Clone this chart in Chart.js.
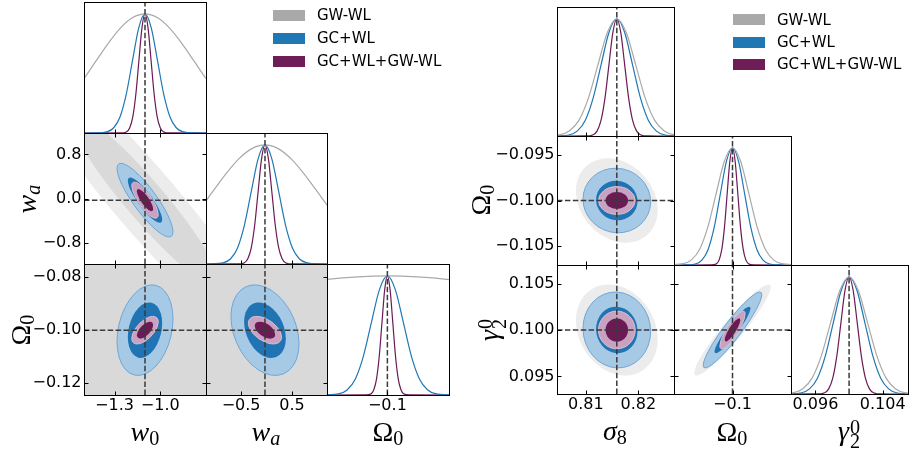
<!DOCTYPE html>
<html>
<head>
<meta charset="utf-8">
<script src="https://cdn.jsdelivr.net/npm/chart.js@4.4.1/dist/chart.umd.min.js"></script>
<style>
  html, body { margin: 0; padding: 0; background: #fff; }
  body { width: 911px; height: 453px; position: relative; overflow: hidden; font-family: 'DejaVu Sans', sans-serif; }
  canvas { position: absolute; left: 0; top: 0; }
  .lab { position: absolute; font-family: 'Liberation Serif', 'DejaVu Serif', serif; font-size: 28px; line-height: 28px; white-space: nowrap; font-style: italic; color: #000; }
  .xl { transform: translateX(-50%); }
  .yl { transform: translate(-50%, -50%) rotate(-90deg); }
  .up { font-style: normal; }
  .sb { font-size: 0.72em; vertical-align: -0.22em; line-height: 0; font-style: normal; }
  .sbi { font-size: 0.72em; vertical-align: -0.22em; line-height: 0; font-style: italic; }
  .ss { display: inline-flex; flex-direction: column; font-size: 0.72em; line-height: 0.72; vertical-align: 0.3em; font-style: normal; margin-left: 1px; }
  .sw { position: absolute; width: 32px; height: 11px; }
  .lt { position: absolute; font-family: 'DejaVu Sans', sans-serif; font-size: 15px; line-height: 15px; white-space: nowrap; color: #000; }
</style>
</head>
<body>
<script>
// ================= DATA =================
const seriesNames = ['GW-WL', 'GC+WL', 'GC+WL+GW-WL'];

// ---- left triangle: parameters w0, wa, Omega0 ----
const leftFid = [-1.1, -0.03, -0.1];
const leftMin = [-1.5, -1.19, -0.1245];
const leftMax = [-0.7, 1.19, -0.075];
const w0TicksX = [-1.3, -1.0];           const w0LabelsX = ['\u22121.3', '\u22121.0'];
const w0TicksY = [];                     const w0LabelsY = [];
const waTicksX = [-0.5, 0.5];            const waLabelsX = ['\u22120.5', '0.5'];
const waTicksY = [-0.8, 0.0, 0.8];       const waLabelsY = ['\u22120.8', '0.0', '0.8'];
const om0TicksX = [-0.1];                const om0LabelsX = ['\u22120.1'];
const om0TicksY = [-0.12, -0.10, -0.08]; const om0LabelsY = ['\u22120.12', '\u22120.10', '\u22120.08'];
// 2D contour widths (1 sigma) per parameter [w0, wa, Om0]
const leftSigGray   = [0.32, 1.03, 0.10];
const leftSigBlue   = [0.074, 0.27, 0.0069];
const leftSigPurple = [0.035, 0.132, 0.0021];
// correlations for pairs [(w0,wa), (w0,Om0), (wa,Om0)]
const leftRhoGray   = [-0.94, 0.0, 0.0];
const leftRhoBlue   = [-0.86, 0.25, -0.3];
const leftRhoPurple = [-0.8, 0.6, -0.5];

// 1D marginals
const w0GrayX   = [-1.74, -1.66, -1.58, -1.50, -1.42, -1.34, -1.26, -1.18, -1.10, -1.02, -0.94, -0.86, -0.78, -0.70, -0.62, -0.54, -0.46];
const w0GrayY   = [0.135, 0.216, 0.325, 0.458, 0.607, 0.755, 0.883, 0.969, 1, 0.969, 0.883, 0.755, 0.607, 0.458, 0.325, 0.216, 0.135];
const w0BlueX   = [-1.5, -1.428, -1.346, -1.305, -1.264, -1.223, -1.182, -1.141, -1.1, -1.059, -1.018, -0.977, -0.936, -0.895, -0.854, -0.772, -0.7];
const w0BlueY   = [0, 0.0003, 0.011, 0.044, 0.135, 0.325, 0.607, 0.883, 1, 0.883, 0.607, 0.325, 0.135, 0.044, 0.011, 0.0003, 0];
const w0PurpleX = [-1.5, -1.26, -1.22, -1.20, -1.18, -1.16, -1.14, -1.12, -1.10, -1.08, -1.06, -1.04, -1.02, -1.00, -0.98, -0.94, -0.7];
const w0PurpleY = [0, 0.0003, 0.011, 0.044, 0.135, 0.325, 0.607, 0.883, 1, 0.883, 0.607, 0.325, 0.135, 0.044, 0.011, 0.0003, 0];

const waGrayX   = [-2.09, -1.8325, -1.575, -1.3175, -1.06, -0.8025, -0.545, -0.2875, -0.03, 0.2275, 0.485, 0.7425, 1.0, 1.2575, 1.515, 1.7725, 2.03];
const waGrayY   = [0.135, 0.216, 0.325, 0.458, 0.607, 0.755, 0.883, 0.969, 1, 0.969, 0.883, 0.755, 0.607, 0.458, 0.325, 0.216, 0.135];
const waBlueX   = [-1.19, -1.11, -0.84, -0.705, -0.57, -0.435, -0.30, -0.165, -0.03, 0.105, 0.24, 0.375, 0.51, 0.645, 0.78, 1.05, 1.19];
const waBlueY   = [0, 0.0003, 0.011, 0.044, 0.135, 0.325, 0.607, 0.883, 1, 0.883, 0.607, 0.325, 0.135, 0.044, 0.011, 0.0003, 0];
const waPurpleX = [-1.19, -0.57, -0.435, -0.3675, -0.30, -0.2325, -0.165, -0.0975, -0.03, 0.0375, 0.105, 0.1725, 0.24, 0.3075, 0.375, 0.51, 1.19];
const waPurpleY = [0, 0.0003, 0.011, 0.044, 0.135, 0.325, 0.607, 0.883, 1, 0.883, 0.607, 0.325, 0.135, 0.044, 0.011, 0.0003, 0];

const om0GrayX   = [-0.2, -0.15, -0.125, -0.1, -0.075, -0.05, 0.0];
const om0GrayY   = [0.607, 0.883, 0.969, 1, 0.969, 0.883, 0.607];
const om0BlueX   = [-0.126, -0.1195, -0.11625, -0.113, -0.10975, -0.1065, -0.10325, -0.1, -0.09675, -0.0935, -0.09025, -0.087, -0.08375, -0.0805, -0.074];
const om0BlueY   = [0.0003, 0.011, 0.044, 0.135, 0.325, 0.607, 0.883, 1, 0.883, 0.607, 0.325, 0.135, 0.044, 0.011, 0.0003];
const om0PurpleX = [-0.1245, -0.1088, -0.1066, -0.1055, -0.1044, -0.1033, -0.1022, -0.1011, -0.1, -0.0989, -0.0978, -0.0967, -0.0956, -0.0945, -0.0934, -0.0912, -0.075];
const om0PurpleY = [0, 0.0003, 0.011, 0.044, 0.135, 0.325, 0.607, 0.883, 1, 0.883, 0.607, 0.325, 0.135, 0.044, 0.011, 0.0003, 0];

// ---- right triangle: parameters sigma8, Omega0, gamma2^0 ----
const rightFid = [0.8159, -0.1, 0.1];
const rightMin = [0.8045, -0.10713, 0.0931];
const rightMax = [0.8268, -0.09287, 0.1070];
const s8TicksX = [0.81, 0.82];             const s8LabelsX = ['0.81', '0.82'];
const s8TicksY = [];                       const s8LabelsY = [];
const omRTicksX = [-0.1];                  const omRLabelsX = ['\u22120.1'];
const omRTicksY = [-0.105, -0.100, -0.095]; const omRLabelsY = ['\u22120.105', '\u22120.100', '\u22120.095'];
const gTicksX = [0.096, 0.104];            const gLabelsX = ['0.096', '0.104'];
const gTicksY = [0.095, 0.100, 0.105];     const gLabelsY = ['0.095', '0.100', '0.105'];
// 2D contour widths per parameter [sigma8, Om0, gamma]
const rightSigGray   = [0.00315, 0.00188, 0.00198];
const rightSigBlue   = [0.0026, 0.00144, 0.00165];
const rightSigPurple = [0.00141, 0.00062, 0.00082];
// correlations for pairs [(s8,Om0), (s8,gamma), (Om0,gamma)]
const rightRhoGray   = [-0.22, -0.2, 0.94];
const rightRhoBlue   = [-0.04, -0.04, 0.93];
const rightRhoPurple = [0.0, 0.0, 0.85];

const s8GrayX   = [0.8015, 0.8051, 0.8069, 0.8087, 0.8105, 0.8123, 0.8141, 0.8159, 0.8177, 0.8195, 0.8213, 0.8231, 0.8249, 0.8267, 0.8303];
const s8GrayY   = [0.0003, 0.011, 0.044, 0.135, 0.325, 0.607, 0.883, 1, 0.883, 0.607, 0.325, 0.135, 0.044, 0.011, 0.0003];
const s8BlueX   = [0.8039, 0.8069, 0.8084, 0.8099, 0.8114, 0.8129, 0.8144, 0.8159, 0.8174, 0.8189, 0.8204, 0.8219, 0.8234, 0.8249, 0.8279];
const s8BlueY   = [0.0003, 0.011, 0.044, 0.135, 0.325, 0.607, 0.883, 1, 0.883, 0.607, 0.325, 0.135, 0.044, 0.011, 0.0003];
const s8PurpleX = [0.8045, 0.8099, 0.8114, 0.81215, 0.8129, 0.81365, 0.8144, 0.81515, 0.8159, 0.81665, 0.8174, 0.81815, 0.8189, 0.81965, 0.8204, 0.8219, 0.8268];
const s8PurpleY = [0, 0.0003, 0.011, 0.044, 0.135, 0.325, 0.607, 0.883, 1, 0.883, 0.607, 0.325, 0.135, 0.044, 0.011, 0.0003, 0];

const omRGrayX   = [-0.108, -0.106, -0.105, -0.104, -0.103, -0.102, -0.101, -0.1, -0.099, -0.098, -0.097, -0.096, -0.095, -0.094, -0.092];
const omRGrayY   = [0.0003, 0.011, 0.044, 0.135, 0.325, 0.607, 0.883, 1, 0.883, 0.607, 0.325, 0.135, 0.044, 0.011, 0.0003];
const omRBlueX   = [-0.10713, -0.10592, -0.10444, -0.1037, -0.10296, -0.10222, -0.10148, -0.10074, -0.1, -0.09926, -0.09852, -0.09778, -0.09704, -0.0963, -0.09556, -0.09408, -0.09287];
const omRBlueY   = [0, 0.0003, 0.011, 0.044, 0.135, 0.325, 0.607, 0.883, 1, 0.883, 0.607, 0.325, 0.135, 0.044, 0.011, 0.0003, 0];
const omRPurpleX = [-0.10713, -0.1026, -0.10195, -0.101625, -0.1013, -0.100975, -0.10065, -0.100325, -0.1, -0.099675, -0.09935, -0.099025, -0.0987, -0.098375, -0.09805, -0.0974, -0.09287];
const omRPurpleY = [0, 0.0003, 0.011, 0.044, 0.135, 0.325, 0.607, 0.883, 1, 0.883, 0.607, 0.325, 0.135, 0.044, 0.011, 0.0003, 0];

const gGrayX   = [0.0912, 0.0934, 0.0945, 0.0956, 0.0967, 0.0978, 0.0989, 0.1, 0.1011, 0.1022, 0.1033, 0.1044, 0.1055, 0.1066, 0.1088];
const gGrayY   = [0.0003, 0.011, 0.044, 0.135, 0.325, 0.607, 0.883, 1, 0.883, 0.607, 0.325, 0.135, 0.044, 0.011, 0.0003];
const gBlueX   = [0.09248, 0.09436, 0.0953, 0.09624, 0.09718, 0.09812, 0.09906, 0.1, 0.10094, 0.10188, 0.10282, 0.10376, 0.1047, 0.10564, 0.10752];
const gBlueY   = [0.0003, 0.011, 0.044, 0.135, 0.325, 0.607, 0.883, 1, 0.883, 0.607, 0.325, 0.135, 0.044, 0.011, 0.0003];
const gPurpleX = [0.0931, 0.09612, 0.09709, 0.097575, 0.09806, 0.098545, 0.09903, 0.099515, 0.1, 0.100485, 0.10097, 0.101455, 0.10194, 0.102425, 0.10291, 0.10388, 0.1070];
const gPurpleY = [0, 0.0003, 0.011, 0.044, 0.135, 0.325, 0.607, 0.883, 1, 0.883, 0.607, 0.325, 0.135, 0.044, 0.011, 0.0003, 0];

// contour levels (sqrt of delta chi^2 for 95% and 68%)
const contourLevels = [2.48, 1.52];
const densityRange = [0, 1.1];

// ================= STYLE / LAYOUT =================
const W = 911, H = 453;
const Y_AXIS_W = 75, X_AXIS_H = 30;
const lineColors = ['#a9a9a9', '#1f77b4', '#6b1a55'];
const fillColors = [['#ececec', '#d9d9d9'], ['#a6c9e5', '#2074b3'], ['#c9a2c1', '#6b1a55']];
const strokeColors = [[null, null], ['#6fa6d5', null], ['#d9bfd3', null]];
const leftLayout  = { cols: [84, 206, 327, 449], rows: [2, 133, 264, 395] };
const rightLayout = { cols: [557, 674, 791, 908], rows: [7, 136, 265, 394] };

Chart.defaults.font.family = "'DejaVu Sans', sans-serif";
const panelInfo = new Map();

const cornerPlugin = {
  id: 'cornerPlugin',
  beforeDatasetsDraw(chart) {
    const p = panelInfo.get(chart.canvas);
    if (!p || !p.ellipses) return;
    const ctx = chart.ctx, a = chart.chartArea, xs = chart.scales.x, ys = chart.scales.y;
    ctx.save();
    ctx.beginPath();
    ctx.rect(a.left, a.top, a.right - a.left, a.bottom - a.top);
    ctx.clip();
    p.ellipses.forEach(e => {
      contourLevels.forEach((k, li) => {
        const px = xs.getPixelForValue(e.cx), py = ys.getPixelForValue(e.cy);
        const ax = Math.abs(xs.getPixelForValue(e.cx + e.sx) - px);
        const ay = Math.abs(ys.getPixelForValue(e.cy + e.sy) - py);
        const r = -e.rho;
        ctx.save();
        ctx.translate(px, py);
        ctx.transform(k * ax, k * r * ay, 0, k * ay * Math.sqrt(1 - r * r), 0, 0);
        ctx.beginPath();
        ctx.arc(0, 0, 1, 0, Math.PI * 2);
        ctx.restore();
        ctx.fillStyle = e.fills[li];
        ctx.fill();
        if (e.strokes[li]) { ctx.strokeStyle = e.strokes[li]; ctx.lineWidth = 1; ctx.stroke(); }
      });
    });
    ctx.restore();
  },
  afterDraw(chart) {
    const p = panelInfo.get(chart.canvas);
    if (!p) return;
    const ctx = chart.ctx, a = chart.chartArea, xs = chart.scales.x, ys = chart.scales.y;
    const L = Math.round(a.left) + 0.5, R = Math.round(a.right) + 0.5;
    const T = Math.round(a.top) + 0.5, B = Math.round(a.bottom) + 0.5;
    ctx.save();
    ctx.strokeStyle = '#000';
    ctx.lineWidth = 1;
    ctx.strokeRect(L, T, R - L, B - T);
    ctx.beginPath();
    const tl = 4;
    p.x.ticks.forEach(v => {
      const px = Math.round(xs.getPixelForValue(v)) + 0.5;
      ctx.moveTo(px, B); ctx.lineTo(px, B - tl);
      if (p.is2D) { ctx.moveTo(px, T); ctx.lineTo(px, T + tl); }
    });
    if (p.is2D) {
      p.y.ticks.forEach(v => {
        const py = Math.round(ys.getPixelForValue(v)) + 0.5;
        ctx.moveTo(L, py); ctx.lineTo(L + tl, py);
        ctx.moveTo(R, py); ctx.lineTo(R - tl, py);
      });
    }
    ctx.stroke();
    ctx.restore();
  }
};

function axisOpts(ax, showLabels, dir) {
  return {
    type: 'linear', min: ax.min, max: ax.max, bounds: 'data', display: true,
    position: dir === 'x' ? 'bottom' : 'left',
    grid: { display: false, drawTicks: false },
    border: { display: false },
    ticks: {
      display: showLabels, autoSkip: false, maxRotation: 0, minRotation: 0,
      padding: dir === 'x' ? 1 : 2.5, color: '#000',
      font: { family: "'DejaVu Sans', sans-serif", size: 16 },
      callback: (v, i) => (ax.labels[i] !== undefined ? ax.labels[i] : '')
    },
    afterBuildTicks: s => { s.ticks = ax.ticks.map(v => ({ value: v })); },
    afterFit: s => { if (dir === 'x') s.height = X_AXIS_H; else s.width = Y_AXIS_W; }
  };
}

function dashed(points) {
  return { data: points, borderColor: '#3a3a3a', borderWidth: 1.5, borderDash: [5.5, 2.4],
           pointRadius: 0, showLine: true, fill: false, tension: 0 };
}

function makePanel(p) {
  const cv = document.createElement('canvas');
  cv.width = W; cv.height = H;
  document.body.appendChild(cv);
  panelInfo.set(cv, p);
  const datasets = [];
  datasets.push(dashed([{ x: p.fx, y: p.y.min }, { x: p.fx, y: p.y.max }]));
  if (p.is2D) datasets.push(dashed([{ x: p.x.min, y: p.fy }, { x: p.x.max, y: p.fy }]));
  (p.curves || []).forEach((c, si) => {
    datasets.push({
      data: c.x.map((v, i) => ({ x: v, y: c.y[i] })),
      borderColor: lineColors[si], borderWidth: 1.2, pointRadius: 0, showLine: true,
      fill: false, cubicInterpolationMode: 'monotone'
    });
  });
  new Chart(cv, {
    type: 'scatter',
    data: { datasets },
    options: {
      responsive: false, animation: false, devicePixelRatio: 1, events: [],
      layout: { autoPadding: false, padding: {
        left: p.box[0] - Y_AXIS_W, top: p.box[1],
        right: W - p.box[2], bottom: H - p.box[3] - X_AXIS_H } },
      plugins: { legend: { display: false }, tooltip: { enabled: false } },
      scales: { x: axisOpts(p.x, p.showX, 'x'), y: axisOpts(p.y, p.showY, 'y') }
    },
    plugins: [cornerPlugin]
  });
}

function buildTriangle(t) {
  const pairIndex = { '0,1': 0, '0,2': 1, '1,2': 2 };
  for (let j = 0; j < 3; j++) {
    for (let i = 0; i <= j; i++) {
      const box = [t.layout.cols[i], t.layout.rows[j], t.layout.cols[i + 1], t.layout.rows[j + 1]];
      const xAx = { min: t.min[i], max: t.max[i], ticks: t.ticksX[i], labels: t.labelsX[i] };
      if (i === j) {
        makePanel({
          box, is2D: false, x: xAx,
          y: { min: densityRange[0], max: densityRange[1], ticks: [], labels: [] },
          fx: t.fid[i], showX: j === 2, showY: false,
          curves: t.curves[i]
        });
      } else {
        const k = pairIndex[i + ',' + j];
        const yAx = { min: t.min[j], max: t.max[j], ticks: t.ticksY[j], labels: t.labelsY[j] };
        const ellipses = t.sig.map((s, si) => ({
          cx: t.fid[i], cy: t.fid[j], sx: s[i], sy: s[j], rho: t.rho[si][k],
          fills: fillColors[si], strokes: strokeColors[si]
        }));
        makePanel({
          box, is2D: true, x: xAx, y: yAx, fx: t.fid[i], fy: t.fid[j],
          showX: j === 2, showY: i === 0, ellipses
        });
      }
    }
  }
}

buildTriangle({
  layout: leftLayout, fid: leftFid, min: leftMin, max: leftMax,
  ticksX: [w0TicksX, waTicksX, om0TicksX], labelsX: [w0LabelsX, waLabelsX, om0LabelsX],
  ticksY: [w0TicksY, waTicksY, om0TicksY], labelsY: [w0LabelsY, waLabelsY, om0LabelsY],
  sig: [leftSigGray, leftSigBlue, leftSigPurple],
  rho: [leftRhoGray, leftRhoBlue, leftRhoPurple],
  curves: [
    [{ x: w0GrayX, y: w0GrayY }, { x: w0BlueX, y: w0BlueY }, { x: w0PurpleX, y: w0PurpleY }],
    [{ x: waGrayX, y: waGrayY }, { x: waBlueX, y: waBlueY }, { x: waPurpleX, y: waPurpleY }],
    [{ x: om0GrayX, y: om0GrayY }, { x: om0BlueX, y: om0BlueY }, { x: om0PurpleX, y: om0PurpleY }]
  ]
});

buildTriangle({
  layout: rightLayout, fid: rightFid, min: rightMin, max: rightMax,
  ticksX: [s8TicksX, omRTicksX, gTicksX], labelsX: [s8LabelsX, omRLabelsX, gLabelsX],
  ticksY: [s8TicksY, omRTicksY, gTicksY], labelsY: [s8LabelsY, omRLabelsY, gLabelsY],
  sig: [rightSigGray, rightSigBlue, rightSigPurple],
  rho: [rightRhoGray, rightRhoBlue, rightRhoPurple],
  curves: [
    [{ x: s8GrayX, y: s8GrayY }, { x: s8BlueX, y: s8BlueY }, { x: s8PurpleX, y: s8PurpleY }],
    [{ x: omRGrayX, y: omRGrayY }, { x: omRBlueX, y: omRBlueY }, { x: omRPurpleX, y: omRPurpleY }],
    [{ x: gGrayX, y: gGrayY }, { x: gBlueX, y: gBlueY }, { x: gPurpleX, y: gPurpleY }]
  ]
});

// ================= TEXT: axis labels and legends =================
function addHTML(html) {
  const d = document.createElement('div');
  d.innerHTML = html;
  while (d.firstChild) document.body.appendChild(d.firstChild);
}
addHTML(
  '<div class="lab xl" style="left:145px;top:418px">w<span class="sb">0</span></div>' +
  '<div class="lab xl" style="left:266px;top:418px">w<span class="sbi">a</span></div>' +
  '<div class="lab xl" style="left:388px;top:418px"><span class="up">\u03A9</span><span class="sb">0</span></div>' +
  '<div class="lab yl" style="left:27px;top:199px">w<span class="sbi">a</span></div>' +
  '<div class="lab yl" style="left:21px;top:330px"><span class="up">\u03A9</span><span class="sb">0</span></div>' +
  '<div class="lab xl" style="left:615px;top:417px">\u03C3<span class="sb">8</span></div>' +
  '<div class="lab xl" style="left:732px;top:418px"><span class="up">\u03A9</span><span class="sb">0</span></div>' +
  '<div class="lab xl" style="left:849px;top:417px">\u03B3<span class="ss"><span>0</span><span>2</span></span></div>' +
  '<div class="lab yl" style="left:481px;top:200px"><span class="up">\u03A9</span><span class="sb">0</span></div>' +
  '<div class="lab yl" style="left:491px;top:330px">\u03B3<span class="ss"><span>0</span><span>2</span></span></div>'
);

const legendSwatch = ['#a9a9a9', '#1f77b4', '#6e1d57'];
function legend(x0, rowsY) {
  let html = '';
  seriesNames.forEach((n, i) => {
    html += '<div class="sw" style="left:' + x0 + 'px;top:' + (rowsY[i] - 5.5) + 'px;background:' + legendSwatch[i] + '"></div>';
    html += '<div class="lt" style="left:' + (x0 + 44) + 'px;top:' + (rowsY[i] - 7.2) + 'px">' + n + '</div>';
  });
  addHTML(html);
}
legend(273, [15.3, 38.5, 61.2]);
legend(733, [19.7, 42, 64.3]);
</script>
</body>
</html>
